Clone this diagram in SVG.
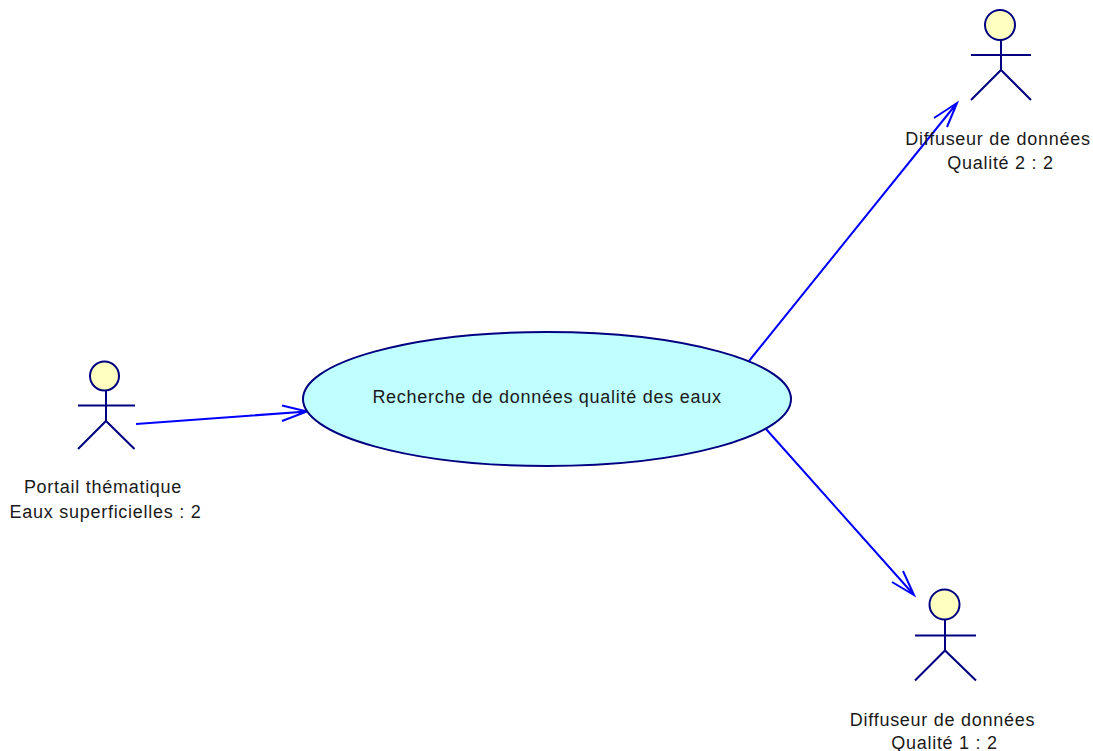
<svg xmlns="http://www.w3.org/2000/svg" width="1093" height="751" viewBox="0 0 1093 751">
<style>
.a{stroke:#000080;stroke-width:2;fill:none}
.h{fill:#ffffc0;stroke:#000080;stroke-width:2}
.c{stroke:#0000ff;stroke-width:2;fill:none}
text{font-family:"Liberation Sans",Arial,sans-serif;font-size:18px;letter-spacing:.73px;fill:#1a1a1a;text-anchor:middle}
</style>
<rect width="1093" height="751" fill="#fff"/>
<g id="connectors">
<path class="c" d="M136 424L307 411.500M282 405.500L307 411.500L282 421"/>
<path class="c" d="M749 361L957 103M934 118L957 103L947 127"/>
<path class="c" d="M766 429L914 595M892 582L914 595L903 571"/>
</g>
<g id="usecase">
<ellipse cx="547" cy="399" rx="244" ry="67" fill="#bfffff" stroke="#000080" stroke-width="2"/>
<text x="547" y="402.500">Recherche de données qualité des eaux</text>
</g>
<g id="actor-portail">
<circle class="h" cx="104.500" cy="376" r="14.500"/>
<path class="a" d="M106 390V421M78 405.500H135M78 449L106 421L134.500 449"/>
<text x="103" y="493">Portail thématique</text>
<text x="105.500" y="518">Eaux superficielles : 2</text>
</g>
<g id="actor-qualite2">
<circle class="h" cx="1000" cy="25" r="15"/>
<path class="a" d="M1001 40V70M971 55H1031M971 100L1001 70L1031 100"/>
<text x="998" y="145">Diffuseur de données</text>
<text x="1000.500" y="169">Qualité 2 : 2</text>
</g>
<g id="actor-qualite1">
<circle class="h" cx="944.500" cy="604.500" r="15"/>
<path class="a" d="M945 620V650.500M915 635.500H976M915 680.500L945 650.500L976 680.500"/>
<text x="942.500" y="726">Diffuseur de données</text>
<text x="944.500" y="749">Qualité 1 : 2</text>
</g>
</svg>
